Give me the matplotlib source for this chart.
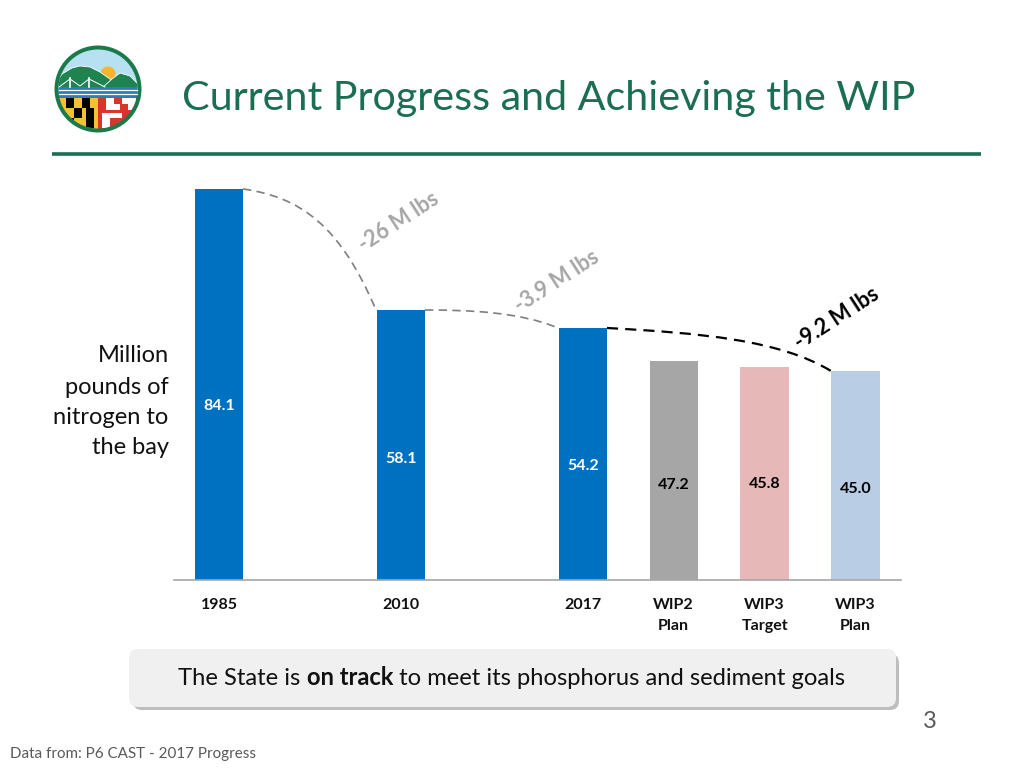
import matplotlib
matplotlib.use('Agg')
import matplotlib.pyplot as plt
from matplotlib.patches import Circle, FancyBboxPatch, PathPatch, Polygon, Rectangle
from matplotlib.path import Path

plt.rcParams['font.family'] = ['Lato', 'DejaVu Sans']

categories = ['1985', '2010', '2017', 'WIP2\nPlan', 'WIP3\nTarget', 'WIP3\nPlan']
positions = [0, 2, 4, 5, 6, 7]
values = [84.1, 58.1, 54.2, 47.2, 45.8, 45.0]
value_labels = ['84.1', '58.1', '54.2', '47.2', '45.8', '45.0']
bar_colors = ['#0070C0', '#0070C0', '#0070C0', '#A6A6A6', '#E6B9B8', '#B9CDE5']
label_colors = ['white', 'white', 'white', 'black', 'black', 'black']
label_heights = [37.5, 26.0, 24.5, 20.5, 20.6, 19.6]
W, H = 1024, 768

fig = plt.figure(figsize=(W / 100, H / 100), dpi=100, facecolor='white')

# page overlay in pixel coordinates
pg = fig.add_axes([0, 0, 1, 1], zorder=1)
pg.set_xlim(0, W)
pg.set_ylim(H, 0)
pg.axis('off')

# chart axes
left, right, base, top = 173.5, 901, 580, 189
ax = fig.add_axes([left / W, 1 - base / H, (right - left) / W, (base - top) / H], zorder=2)
ax.patch.set_alpha(0)
ax.set_xlim(-0.5, 7.5)
ax.set_ylim(0, 84.1)
for s in ['top', 'left', 'right']:
    ax.spines[s].set_visible(False)
ax.spines['bottom'].set_color('#A6A6A6')
ax.spines['bottom'].set_linewidth(1.2)
ax.set_yticks([])
ax.bar(positions, values, width=0.53, color=bar_colors, linewidth=0)
ax.set_xticks(positions)
ax.set_xticklabels(categories, fontsize=11.5, fontweight='bold', color='#111111', linespacing=1.6)
ax.tick_params(axis='x', length=0, pad=13)
for p, h, t, c in zip(positions, label_heights, value_labels, label_colors):
    ax.text(p, h, t, ha='center', va='center', fontsize=11.5, fontweight='bold', color=c)


def curve(p0, c1, c2, p1, color, lw):
    path = Path([p0, c1, c2, p1], [Path.MOVETO, Path.CURVE4, Path.CURVE4, Path.CURVE4])
    pg.add_patch(PathPatch(path, fc='none', ec=color, lw=lw, ls=(0, (5, 3.2))))


curve((243, 189), (300, 197), (340, 225), (376, 310), '#7F7F7F', 1.2)
curve((425, 310), (470, 310), (520, 312), (558, 328), '#7F7F7F', 1.2)
curve((607, 328), (700, 333), (780, 340), (831, 371), 'black', 1.6)

pg.text(399, 222, '-26 M lbs', rotation=33, ha='center', va='center', fontsize=15.5,
        fontweight='bold', color='#A6A6A6')
pg.text(557, 281, '-3.9 M lbs', rotation=33, ha='center', va='center', fontsize=15.5,
        fontweight='bold', color='#A6A6A6')
pg.text(837, 318, '-9.2 M lbs', rotation=33, ha='center', va='center', fontsize=15.5,
        fontweight='bold', color='black')

# title and rule
pg.text(182, 98.5, 'Current Progress and Achieving the WIP', fontsize=29.7, color='#1B6E53',
        ha='left', va='center')
pg.plot([52, 981], [153.5, 153.5], color='#1B6E53', lw=2.6, solid_capstyle='butt')

# y caption
for y, t in zip([356, 387, 417, 448], ['Million', 'pounds of', 'nitrogen to', 'the bay']):
    pg.text(168.5, y, t, ha='right', va='center', fontsize=17, color='#111111')

# call-out box
pg.add_patch(FancyBboxPatch((133, 654), 766, 56, boxstyle='round,pad=0,rounding_size=9',
                            fc='#A8A8A8', ec='none', alpha=0.75))
pg.add_patch(FancyBboxPatch((129, 649), 767, 58, boxstyle='round,pad=0,rounding_size=9',
                            fc='#F0F0F0', ec='none'))
renderer = fig.canvas.get_renderer()
cx_text = 178.5
for seg, weight in (('The State is ', 'normal'), ('on track', 'bold'),
                    (' to meet its phosphorus and sediment goals', 'normal')):
    t = pg.text(cx_text, 685, seg, fontsize=17.1, fontweight=weight, color='#111111',
                va='baseline', ha='left')
    # width including spaces: measure with sentinel characters
    probe = pg.text(0, 0, '|' + seg + '|', fontsize=17.1, fontweight=weight)
    bar_probe = pg.text(0, 0, '||', fontsize=17.1, fontweight=weight)
    cx_text += (probe.get_window_extent(renderer).width - bar_probe.get_window_extent(renderer).width)
    probe.remove()
    bar_probe.remove()

# footer
pg.text(923, 722, '3', fontsize=17, color='#595959', ha='left', va='center')
pg.text(10, 754, 'Data from: P6 CAST - 2017 Progress', fontsize=10.9, color='#595959',
        ha='left', va='center')

# logo
cx, cy = 98, 89
pg.add_patch(Circle((cx, cy), 43.5, fc='#1B7A4B', ec='none'))
clip = Circle((cx, cy), 39.5, transform=pg.transData)


def logo(patch):
    pg.add_patch(patch)
    patch.set_clip_path(clip)


logo(Rectangle((55, 45), 90, 48, fc='#B7E0F2', ec='none'))
logo(Circle((108, 74), 7.5, fc='#F7B42C', ec='none'))
logo(Polygon([(55, 84), (62, 74), (72, 68), (80, 66), (90, 67), (100, 72), (110, 79), (118, 84),
              (112, 88), (55, 88)], fc='#1F8350', ec='white', lw=0.6))
logo(Polygon([(102, 88), (112, 79), (120, 73), (130, 76), (142, 88)], fc='#1F8350', ec='white', lw=0.6))
for bx in (70, 89):
    pg.plot([bx, bx], [78, 87], color='white', lw=1.2, zorder=3)
pg.plot([59, 70, 80, 89, 105], [87, 79, 86, 79, 87], color='white', lw=0.7, zorder=3)
logo(Rectangle((55, 87), 90, 12, fc='#2B7DC1', ec='none'))
for y in (89.5, 94):
    pg.plot([59, 137], [y, y], color='white', lw=0.9, zorder=3)
logo(Rectangle((55, 98), 43, 36, fc='#F2C230', ec='none'))
logo(Rectangle((98, 98), 45, 36, fc='#D8362B', ec='none'))
for pts in ([(66, 98), (74, 98), (74, 108), (66, 108)], [(74, 108), (82, 108), (82, 118), (74, 118)],
            [(82, 98), (90, 98), (90, 108), (82, 108)], [(66, 118), (74, 118), (74, 128), (66, 128)],
            [(86, 108), (94, 108), (94, 128), (86, 128)]):
    logo(Polygon(pts, fc='black', ec='none'))
for pts in ([(106, 98), (114, 98), (114, 104), (120, 104), (120, 110), (106, 110)],
            [(122, 98), (136, 98), (136, 110), (128, 110), (128, 104), (122, 104)],
            [(102, 113), (122, 113), (122, 118), (110, 118), (110, 128), (102, 128)]):
    logo(Polygon(pts, fc='white', ec='none'))

fig.savefig('out.png', dpi=100, facecolor='white')
